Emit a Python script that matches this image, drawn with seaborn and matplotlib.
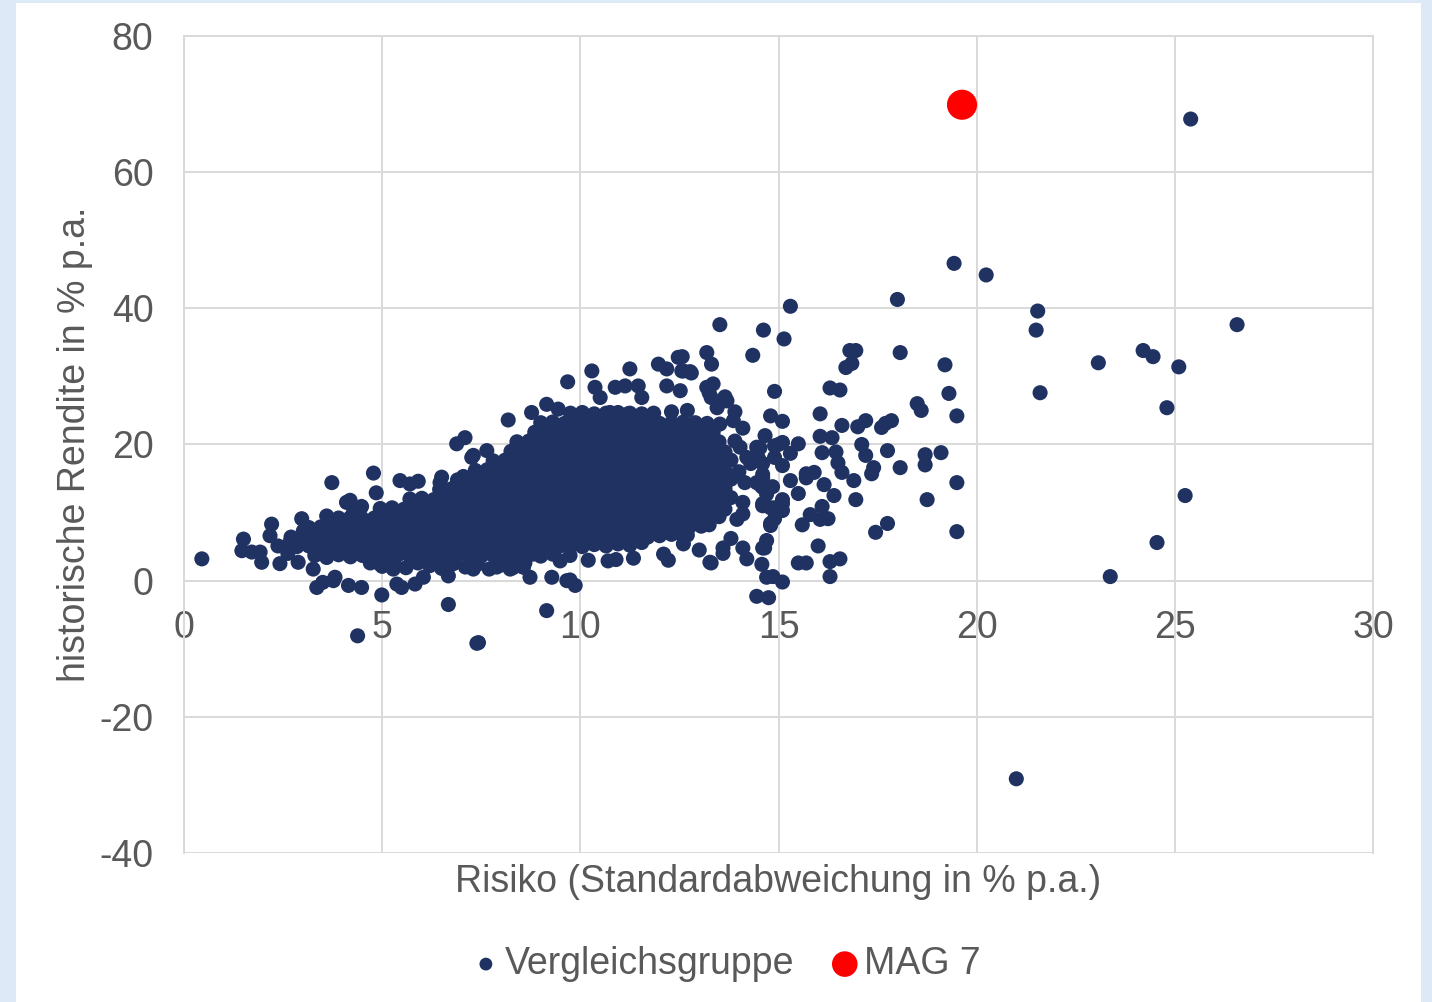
import matplotlib
matplotlib.use("Agg")
import matplotlib.pyplot as plt
from matplotlib.patches import Rectangle
import seaborn as sns
import pandas as pd

# Risiko (x) / historische Rendite (y)
mag7 = [(19.63, 69.9)]

tail_points = [
    (0.45, 3.2), (1.5, 6.1), (1.46, 4.4), (1.71, 4.2), (1.92, 4.2), (1.96, 2.7),
    (2.21, 8.3), (2.17, 6.6), (2.37, 5.1), (2.42, 2.5), (2.67, 5.6), (2.88, 2.7),
    (2.62, 4.0), (2.97, 9.1), (3.01, 7.3), (3.26, 1.7), (3.35, -1.0), (3.6, 9.5),
    (3.77, 0.0), (3.73, 14.4), (4.1, 11.5), (4.19, 11.8), (4.27, 10.7), (4.48, 10.9),
    (4.44, 10.5), (4.78, 15.8), (4.85, 12.9), (3.5, -0.25), (3.81, 0.5), (4.15, -0.7),
    (4.48, -1.0), (4.99, -2.1), (4.38, -8.1), (5.45, 14.7), (5.7, 14.2), (5.91, 14.6),
    (6.5, 15.2), (6.46, 14.4), (7.05, 15.3), (6.88, 20.1), (7.09, 21.0), (7.26, 18.1),
    (7.64, 19.1), (7.3, 18.4), (5.37, -0.5), (5.49, -1.0), (5.83, -0.5), (6.04, 0.5),
    (6.67, -3.5), (7.39, -9.2), (5.28, 1.7), (4.95, 2.4), (6.67, 0.7), (6.46, 3.4),
    (7.3, 1.7), (7.89, 2.0), (8.23, 1.7), (8.56, 2.0),
]

core_bottom = [
    (4.7, 2.6), (5.0, 2.1), (5.3, 2.4), (5.6, 1.9), (5.9, 2.6), (6.2, 2.2), (6.5, 1.8),
    (6.8, 2.5), (7.1, 2.0), (7.4, 2.4), (7.7, 1.7), (8.0, 2.3), (8.3, 1.9), (8.6, 2.6),
    (3.3, 3.7), (3.6, 3.4), (3.9, 3.8), (4.2, 3.5), (4.5, 3.7), (4.8, 3.6), (5.1, 3.5),
    (5.4, 3.8), (5.7, 3.6), (6.0, 3.5), (6.3, 3.7), (6.6, 3.6), (6.9, 3.8), (7.2, 3.5),
    (7.5, 3.6), (7.8, 3.7), (8.1, 3.5), (8.4, 3.6), (8.7, 3.8), (9.0, 3.6), (9.3, 3.9),
    (2.85, 5.0), (3.15, 5.1), (3.45, 4.9), (3.75, 5.0), (4.05, 5.1), (4.35, 4.9),
    (4.65, 5.0), (4.95, 5.0), (5.25, 5.1), (5.55, 4.9), (5.85, 5.0), (6.15, 5.1),
    (6.45, 5.0), (6.75, 4.9), (7.05, 5.0), (7.35, 5.1), (7.65, 5.0), (7.95, 4.9),
    (8.25, 5.0), (8.55, 5.1), (8.85, 5.0), (9.15, 4.9), (9.45, 5.0), (9.75, 5.2),
    (10.05, 5.0), (10.35, 5.3), (10.65, 5.1), (10.95, 5.4), (11.25, 5.2), (11.55, 5.6),
    (2.7, 6.4), (3.0, 6.3), (3.3, 6.5), (3.6, 6.4), (3.9, 6.3), (4.2, 6.5), (4.5, 6.4),
    (4.8, 6.4), (5.1, 6.3), (5.4, 6.5), (5.7, 6.4), (6.0, 6.4), (6.3, 6.3), (6.6, 6.5),
    (6.9, 6.4), (7.2, 6.4), (7.5, 6.3), (7.8, 6.5), (8.1, 6.4), (8.4, 6.4), (8.7, 6.3),
    (9.0, 6.5), (9.3, 6.4), (9.6, 6.4), (9.9, 6.3), (10.2, 6.5), (10.5, 6.4), (10.8, 6.4),
    (11.1, 6.3), (11.4, 6.5), (11.7, 6.4), (12.0, 6.6), (12.3, 6.8), (12.5, 7.0),
    (3.15, 7.8), (3.45, 7.9), (3.75, 7.7), (4.05, 7.8), (4.35, 7.9), (4.65, 7.8),
    (4.95, 7.7), (5.25, 7.8), (5.55, 7.9), (5.85, 7.8), (6.15, 7.7), (6.45, 7.8),
    (6.75, 7.9), (7.05, 7.8), (7.35, 7.7), (7.65, 7.8), (7.95, 7.9), (8.25, 7.8),
    (8.55, 7.7), (8.85, 7.8), (9.15, 7.9), (9.45, 7.8), (9.75, 7.7), (10.05, 7.8),
    (10.35, 7.9), (10.65, 7.8), (10.95, 7.7), (11.25, 7.8), (11.55, 7.9), (11.85, 7.8),
    (12.15, 7.7), (12.45, 7.8), (12.75, 7.9), (13.05, 8.0), (13.25, 8.2),
]

core_middle = [
    (3.9, 9.2), (4.2, 9.3), (4.5, 9.1), (4.8, 9.2), (5.1, 9.3), (5.4, 9.2), (5.7, 9.1),
    (6.0, 9.2), (6.3, 9.3), (6.6, 9.2), (6.9, 9.1), (7.2, 9.2), (7.5, 9.3), (7.8, 9.2),
    (8.1, 9.1), (8.4, 9.2), (8.7, 9.3), (9.0, 9.2), (9.3, 9.1), (9.6, 9.2), (9.9, 9.3),
    (10.2, 9.2), (10.5, 9.1), (10.8, 9.2), (11.1, 9.3), (11.4, 9.2), (11.7, 9.1),
    (12.0, 9.2), (12.3, 9.3), (12.6, 9.2), (12.9, 9.1), (13.2, 9.2), (13.5, 9.4),
    (4.95, 10.6), (5.25, 10.7), (5.55, 10.5), (5.85, 10.6), (6.15, 10.7), (6.45, 10.6),
    (6.75, 10.5), (7.05, 10.6), (7.35, 10.7), (7.65, 10.6), (7.95, 10.5), (8.25, 10.6),
    (8.55, 10.7), (8.85, 10.6), (9.15, 10.5), (9.45, 10.6), (9.75, 10.7), (10.05, 10.6),
    (10.35, 10.5), (10.65, 10.6), (10.95, 10.7), (11.25, 10.6), (11.55, 10.5),
    (11.85, 10.6), (12.15, 10.7), (12.45, 10.6), (12.75, 10.5), (13.05, 10.6),
    (13.35, 10.7), (13.65, 10.5),
    (5.7, 12.0), (6.0, 12.1), (6.3, 11.9), (6.6, 12.0), (6.9, 12.1), (7.2, 12.0),
    (7.5, 11.9), (7.8, 12.0), (8.1, 12.1), (8.4, 12.0), (8.7, 11.9), (9.0, 12.0),
    (9.3, 12.1), (9.6, 12.0), (9.9, 11.9), (10.2, 12.0), (10.5, 12.1), (10.8, 12.0),
    (11.1, 11.9), (11.4, 12.0), (11.7, 12.1), (12.0, 12.0), (12.3, 11.9), (12.6, 12.0),
    (12.9, 12.1), (13.2, 12.0), (13.5, 11.9), (13.8, 12.2),
    (6.45, 13.4), (6.75, 13.5), (7.05, 13.3), (7.35, 13.4), (7.65, 13.5), (7.95, 13.4),
    (8.25, 13.3), (8.55, 13.4), (8.85, 13.5), (9.15, 13.4), (9.45, 13.3), (9.75, 13.4),
    (10.05, 13.5), (10.35, 13.4), (10.65, 13.3), (10.95, 13.4), (11.25, 13.5),
    (11.55, 13.4), (11.85, 13.3), (12.15, 13.4), (12.45, 13.5), (12.75, 13.4),
    (13.05, 13.3), (13.35, 13.4), (13.65, 13.5),
    (6.9, 14.8), (7.2, 14.9), (7.5, 14.7), (7.8, 14.8), (8.1, 14.9), (8.4, 14.8),
    (8.7, 14.7), (9.0, 14.8), (9.3, 14.9), (9.6, 14.8), (9.9, 14.7), (10.2, 14.8),
    (10.5, 14.9), (10.8, 14.8), (11.1, 14.7), (11.4, 14.8), (11.7, 14.9), (12.0, 14.8),
    (12.3, 14.7), (12.6, 14.8), (12.9, 14.9), (13.2, 14.8), (13.5, 14.7), (13.8, 14.9),
]

core_top = [
    (7.35, 16.2), (7.65, 16.3), (7.95, 16.1), (8.25, 16.2), (8.55, 16.3), (8.85, 16.2),
    (9.15, 16.1), (9.45, 16.2), (9.75, 16.3), (10.05, 16.2), (10.35, 16.1), (10.65, 16.2),
    (10.95, 16.3), (11.25, 16.2), (11.55, 16.1), (11.85, 16.2), (12.15, 16.3),
    (12.45, 16.2), (12.75, 16.1), (13.05, 16.2), (13.35, 16.3), (13.65, 16.1),
    (7.8, 17.6), (8.1, 17.7), (8.4, 17.5), (8.7, 17.6), (9.0, 17.7), (9.3, 17.6),
    (9.6, 17.5), (9.9, 17.6), (10.2, 17.7), (10.5, 17.6), (10.8, 17.5), (11.1, 17.6),
    (11.4, 17.7), (11.7, 17.6), (12.0, 17.5), (12.3, 17.6), (12.6, 17.7), (12.9, 17.6),
    (13.2, 17.5), (13.5, 17.6), (13.8, 17.7),
    (8.25, 19.0), (8.55, 19.1), (8.85, 18.9), (9.15, 19.0), (9.45, 19.1), (9.75, 19.0),
    (10.05, 18.9), (10.35, 19.0), (10.65, 19.1), (10.95, 19.0), (11.25, 18.9),
    (11.55, 19.0), (11.85, 19.1), (12.15, 19.0), (12.45, 18.9), (12.75, 19.0),
    (13.05, 19.1), (13.35, 19.0), (13.65, 18.9),
    (8.4, 20.4), (8.7, 20.5), (9.0, 20.3), (9.3, 20.4), (9.6, 20.5), (9.9, 20.4),
    (10.2, 20.3), (10.5, 20.4), (10.8, 20.5), (11.1, 20.4), (11.4, 20.3), (11.7, 20.4),
    (12.0, 20.5), (12.3, 20.4), (12.6, 20.3), (12.9, 20.4), (13.2, 20.5), (13.5, 20.4),
    (8.85, 21.8), (9.15, 21.9), (9.45, 21.7), (9.75, 21.8), (10.05, 21.9), (10.35, 21.8),
    (10.65, 21.7), (10.95, 21.8), (11.25, 21.9), (11.55, 21.8), (11.85, 21.7),
    (12.15, 21.8), (12.45, 21.9), (12.75, 21.8), (13.05, 21.7), (13.35, 21.8),
    (9.0, 23.2), (9.3, 23.3), (9.6, 23.1), (9.9, 23.2), (10.2, 23.3), (10.5, 23.2),
    (10.8, 23.1), (11.1, 23.2), (11.4, 23.3), (11.7, 23.2), (12.0, 23.1), (12.3, 23.2),
    (12.6, 23.3), (12.9, 23.2), (13.2, 23.1),
    (9.75, 24.6), (10.05, 24.7), (10.35, 24.5), (10.65, 24.6), (10.95, 24.7),
    (11.25, 24.6), (11.55, 24.5), (11.85, 24.6), (12.3, 24.8), (12.7, 25.0),
]

fringe_mid = [
    (8.18, 23.6), (8.77, 24.7), (9.15, 25.9), (9.44, 25.2), (9.68, 29.2), (9.95, 24.2),
    (10.29, 30.8), (10.37, 28.4), (10.5, 26.9), (10.75, 24.7), (10.88, 28.4),
    (11.13, 28.6), (11.2, 24.5), (11.25, 31.1), (11.46, 28.6), (11.55, 26.9),
    (11.97, 31.8), (12.18, 31.1), (12.18, 28.6), (12.47, 32.8), (12.52, 27.9),
    (12.56, 30.8), (12.77, 30.7), (13.19, 33.5), (13.31, 31.8), (13.19, 28.4),
    (13.3, 26.9), (8.73, 0.5), (9.28, 0.5), (9.66, 0.0), (9.74, 0.1), (9.87, -0.7),
    (9.15, -4.4), (7.43, -9.1), (8.81, 3.9), (8.56, 2.0), (9.49, 2.9), (9.74, 3.7),
    (10.2, 3.0), (10.7, 2.9), (10.9, 3.1), (11.34, 3.3), (12.1, 3.9), (12.22, 3.0),
    (13.0, 4.5), (13.27, 2.7), (12.6, 5.4), (12.7, 6.7),
]

fringe_right = [
    (13.52, 37.6), (14.62, 36.8), (14.35, 33.1), (12.57, 32.9), (12.6, 30.8),
    (12.8, 30.5), (13.35, 28.9), (13.25, 27.6), (13.65, 27.0), (13.45, 25.4),
    (13.5, 26.1), (13.7, 26.4), (13.52, 23.0), (13.86, 23.5), (14.9, 27.8),
    (14.8, 24.2), (14.66, 21.3), (14.53, 19.5), (14.9, 19.8), (14.03, 19.6),
    (14.2, 18.1), (14.3, 17.2), (14.45, 19.6), (14.5, 17.9), (14.15, 14.4),
    (14.45, 14.4), (14.6, 13.7), (14.6, 15.6), (14.55, 14.0), (14.85, 13.8),
    (14.1, 11.5), (14.1, 9.8), (14.6, 11.3), (14.7, 12.7), (14.8, 10.7), (15.1, 11.3),
    (14.8, 8.4), (13.95, 9.0), (13.0, 9.1), (12.7, 7.8), (13.8, 6.2), (13.6, 4.8),
    (13.6, 4.0), (14.1, 4.8), (14.2, 3.2), (14.6, 4.8), (14.7, 5.9), (13.3, 2.6),
    (14.58, 2.4), (14.7, 0.5), (14.45, -2.3), (14.75, -2.5), (14.0, 16.0),
    (13.9, 20.5), (14.1, 22.4), (13.9, 24.8),
]

fringe_far = [
    (15.14, 35.5), (16.8, 33.8), (16.95, 33.8), (16.7, 31.3), (16.85, 31.9),
    (18.07, 33.5), (19.2, 31.7), (19.3, 27.5), (19.5, 24.2), (16.3, 28.3),
    (16.55, 28.0), (15.1, 23.4), (16.05, 24.5), (16.6, 22.8), (17.0, 22.6),
    (17.2, 23.5), (17.6, 22.5), (17.7, 23.1), (17.85, 23.5), (18.5, 26.0),
    (18.6, 25.0), (15.0, 20.0), (15.1, 20.3), (15.5, 20.1), (16.05, 21.2),
    (16.35, 21.0), (15.3, 18.7), (16.1, 18.8), (16.45, 18.9), (17.1, 20.0),
    (17.2, 18.4), (17.75, 19.1), (18.7, 18.5), (18.7, 17.0), (19.1, 18.8),
    (18.07, 16.6), (15.1, 16.9), (14.6, 17.2), (14.9, 18.1), (15.7, 15.7),
    (15.9, 15.9), (15.7, 15.1), (16.5, 17.3), (16.6, 15.9), (16.9, 14.7),
    (17.4, 16.6), (17.35, 15.7), (19.5, 14.4), (14.6, 15.1), (15.3, 14.7),
    (16.15, 14.1), (15.5, 12.8), (16.4, 12.5), (16.95, 11.9), (18.75, 11.9),
    (15.1, 11.9), (14.6, 11.0), (15.1, 10.3), (14.9, 10.7), (16.1, 10.9),
    (15.8, 9.7), (16.05, 9.0), (16.25, 9.1), (14.9, 9.1), (14.8, 8.1), (15.6, 8.2),
    (17.75, 8.4), (17.45, 7.1), (19.5, 7.2), (14.65, 4.8), (16.0, 5.1), (15.5, 2.6),
    (15.7, 2.6), (16.3, 2.8), (16.55, 3.2), (14.86, 0.6), (15.1, -0.2), (16.3, 0.6),
]

outliers = [
    (25.4, 67.8), (19.43, 46.6), (20.24, 44.9), (18.0, 41.3), (15.3, 40.3),
    (21.54, 39.6), (21.5, 36.8), (21.6, 27.6), (23.07, 32.0), (24.2, 33.8),
    (24.45, 32.9), (25.1, 31.4), (26.57, 37.6), (24.8, 25.4), (25.26, 12.5),
    (24.55, 5.6), (23.37, 0.6), (21.0, -29.1),
]

x_ticks = [0, 5, 10, 15, 20, 25, 30]
y_ticks = [-40, -20, 0, 20, 40, 60, 80]

NAVY = "#1f3262"
GREY_TEXT = "#595959"
GRID = "#d9d9d9"

peers = pd.DataFrame(
    tail_points + core_bottom + core_middle + core_top
    + fringe_mid + fringe_right + fringe_far + outliers,
    columns=["risiko", "rendite"],
)
mag = pd.DataFrame(mag7, columns=["risiko", "rendite"])

sns.set_theme(style="white")
plt.rcParams["font.family"] = ["Liberation Sans", "DejaVu Sans"]
plt.rcParams["axes.unicode_minus"] = False

fig = plt.figure(figsize=(14.32, 10.02), dpi=100)
fig.patch.set_facecolor("#dde9f6")
# weisse Folienflaeche, blauer Rand links/rechts
fig.patches.append(Rectangle((0.011, 0.0), 0.981, 0.997, transform=fig.transFigure,
                             facecolor="white", edgecolor="none", zorder=-5))

ax = fig.add_axes([0.1285, 0.1487, 0.8303, 0.8154])
ax.set_zorder(2)
sns.scatterplot(data=peers, x="risiko", y="rendite", color=NAVY, s=118,
                edgecolor="none", linewidth=0, ax=ax, label="Vergleichsgruppe", zorder=3)
sns.scatterplot(data=mag, x="risiko", y="rendite", color="#ff0000", s=470,
                edgecolor="none", linewidth=0, ax=ax, label="MAG 7", zorder=4)

ax.set_xlim(0, 30)
ax.set_ylim(-40, 80)
ax.set_xticks(x_ticks)
ax.set_yticks(y_ticks)
ax.grid(True, color=GRID, linewidth=1.4)
ax.set_axisbelow(True)
for side in ["left", "right", "top", "bottom"]:
    ax.spines[side].set_color(GRID)
    ax.spines[side].set_linewidth(1.4)
ax.spines["bottom"].set_position(("data", 0))

ax.tick_params(axis="both", length=0, labelsize=27, labelcolor=GREY_TEXT)
ax.tick_params(axis="x", pad=21)
ax.tick_params(axis="y", pad=22)

ax.set_xlabel("Risiko (Standardabweichung in % p.a.)", fontsize=27, color=GREY_TEXT)
ax.set_ylabel("historische Rendite in % p.a.", fontsize=27, color=GREY_TEXT)
ax.xaxis.set_label_coords(0.5, -0.036)
ax.xaxis.label.set_va("center")
ax.yaxis.set_label_coords(-0.092, 0.5)
ax.yaxis.label.set_va("center")

handles, labels = ax.get_legend_handles_labels()
ax.legend_.remove()
leg = fig.legend(handles, labels, loc="center", bbox_to_anchor=(0.506, 0.038), ncol=2,
                 frameon=False, fontsize=27, handletextpad=0.05, columnspacing=0.9,
                 handlelength=0.9, markerscale=0.85)
for t in leg.get_texts():
    t.set_color(GREY_TEXT)

fig.savefig("out.png", dpi=100, facecolor=fig.get_facecolor())
